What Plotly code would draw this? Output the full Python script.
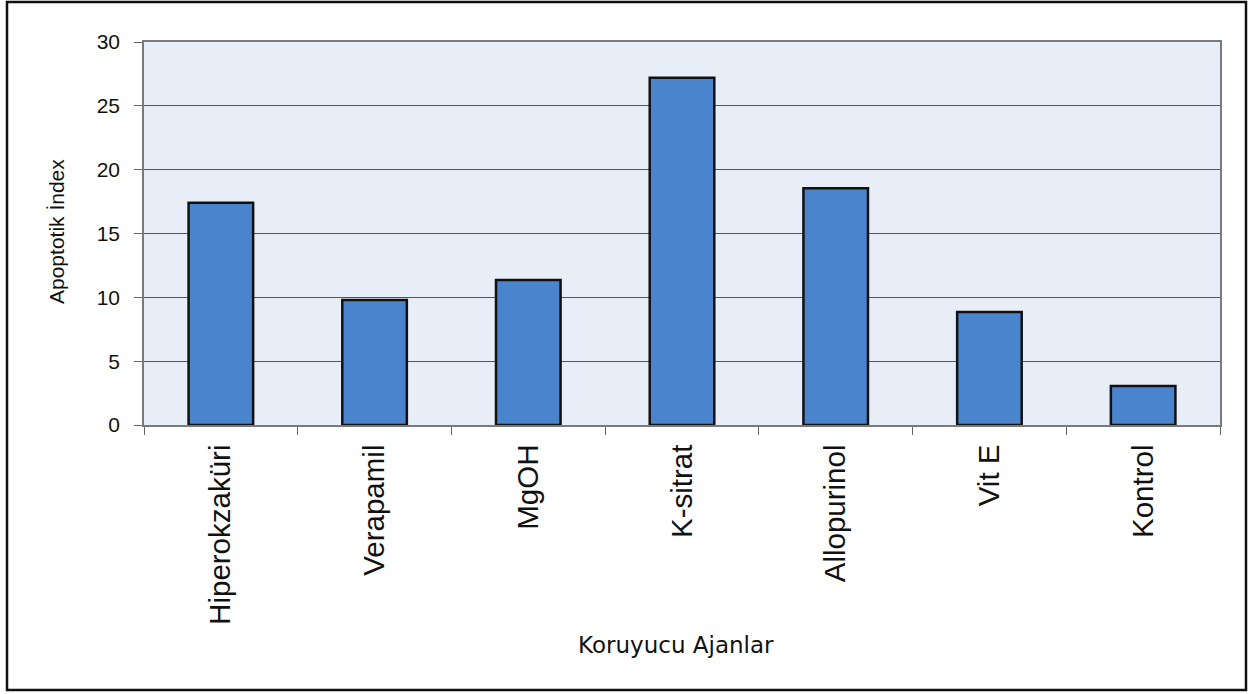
import plotly.graph_objects as go

categories = ["Hiperokzaküri", "Verapamil", "MgOH", "K-sitrat", "Allopurinol", "Vit E", "Kontrol"]
values = [17.4, 9.8, 11.35, 27.2, 18.55, 8.85, 3.05]
y_ticks = [0, 5, 10, 15, 20, 25, 30]
x_title = "Koruyucu Ajanlar"
y_title = "Apoptotik İndex"

W, H = 1255, 694
L, R, T, B = 144, 35, 42, 269
pw, ph = W - L - R, H - T - B

def px_x(p):
    return (p - L) / pw

def px_y(p):
    return (H - B - p) / ph

fig = go.Figure()
fig.add_trace(go.Bar(
    x=categories, y=values,
    marker=dict(color="#4a84cc", line=dict(color="#111111", width=2.5)),
    width=0.42,
))

fig.update_layout(
    width=W, height=H,
    margin=dict(l=L, r=R, t=T, b=B),
    paper_bgcolor="white",
    plot_bgcolor="#e8eef8",
    showlegend=False,
    font=dict(family="Liberation Sans, Arial", color="#111111"),
    xaxis=dict(
        type="category",
        tickangle=-90,
        tickfont=dict(size=29.5, family="Liberation Sans, Arial", color="#111111"),
        ticks="outside", ticklen=8, tickcolor="#666666", tickwidth=1,
        tickson="boundaries",
        ticklabelstandoff=6,
        showline=True, linecolor="#7a7a7a", linewidth=1.5, mirror=True,
        showgrid=False,
    ),
    yaxis=dict(
        range=[0, 30],
        tickvals=y_ticks,
        tickfont=dict(size=21, family="Liberation Sans, Arial", color="#111111"),
        ticks="outside", ticklen=8, tickcolor="#666666", tickwidth=1,
        ticklabelstandoff=10,
        showline=True, linecolor="#7a7a7a", linewidth=1.5, mirror=True,
        showgrid=True, gridcolor="#555555", gridwidth=1,
        zeroline=False,
    ),
    annotations=[
        dict(text=x_title, xref="paper", yref="paper",
             x=px_x(676), y=px_y(645), showarrow=False,
             font=dict(size=23, family="DejaVu Sans", color="#111111"),
             xanchor="center", yanchor="middle"),
        dict(text=y_title, xref="paper", yref="paper",
             x=px_x(56), y=px_y(232), showarrow=False, textangle=-90,
             font=dict(size=21, family="Liberation Sans, Arial", color="#111111"),
             xanchor="center", yanchor="middle"),
    ],
    shapes=[
        dict(type="rect", xref="paper", yref="paper",
             x0=px_x(7), x1=px_x(1246), y0=px_y(690), y1=px_y(2),
             line=dict(color="#111111", width=2.5), fillcolor="rgba(0,0,0,0)",
             layer="below"),
    ],
)

fig.write_html("out.html")
